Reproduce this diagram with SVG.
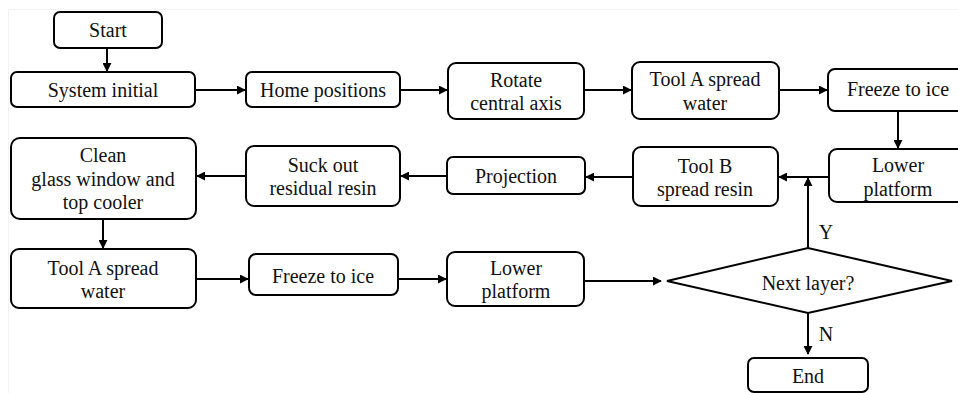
<svg xmlns="http://www.w3.org/2000/svg" width="958" height="393" viewBox="0 0 958 393">
<style>
.b{fill:#fff;stroke:#000;stroke-width:2}
.t{font-family:"Liberation Serif","Times New Roman",serif;font-size:20px;fill:#111;text-anchor:middle}
.c{fill:none;stroke:#000;stroke-width:2}
</style>
<defs>
<marker id="ah" viewBox="0 0 10 10" refX="9" refY="5" markerWidth="4.5" markerHeight="4.5" orient="auto" markerUnits="strokeWidth">
<path d="M0,0 L10,5 L0,10 z" fill="#000"/>
</marker>
</defs>
<rect width="958" height="393" fill="#fff"/>
<path d="M8.5,393 V9.5 H958" fill="none" stroke="#f3f3f3" stroke-width="1"/>
<g id="connectors">
<path class="c" marker-end="url(#ah)" d="M107,48 V71"/>
<path class="c" marker-end="url(#ah)" d="M195,90 H245"/>
<path class="c" marker-end="url(#ah)" d="M400,90 H447"/>
<path class="c" marker-end="url(#ah)" d="M584,90 H631"/>
<path class="c" marker-end="url(#ah)" d="M779,90 H827"/>
<path class="c" marker-end="url(#ah)" d="M898,111 V148"/>
<path class="c" marker-end="url(#ah)" d="M829,177 H779"/>
<path class="c" marker-end="url(#ah)" d="M633,177 H586"/>
<path class="c" marker-end="url(#ah)" d="M447,176 H401"/>
<path class="c" marker-end="url(#ah)" d="M246,176 H197"/>
<path class="c" marker-end="url(#ah)" d="M103,219 V248"/>
<path class="c" marker-end="url(#ah)" d="M196,279 H248"/>
<path class="c" marker-end="url(#ah)" d="M398,279 H446"/>
<path class="c" marker-end="url(#ah)" d="M584,281 H661"/>
<path class="c" marker-end="url(#ah)" d="M808,248 V178"/>
<path class="c" marker-end="url(#ah)" d="M808,313 V354"/>
<text class="t" x="826" y="239">Y</text>
<text class="t" x="826" y="341">N</text>
</g>
<g id="start"><rect class="b" x="54" y="12" width="108" height="36" rx="6"/><text class="t" x="108" y="37">Start</text></g>
<g id="system-initial"><rect class="b" x="11" y="72" width="184" height="35" rx="6"/><text class="t" x="103" y="97">System initial</text></g>
<g id="home-positions"><rect class="b" x="246" y="72" width="154" height="35" rx="6"/><text class="t" x="323" y="97">Home positions</text></g>
<g id="rotate"><rect class="b" x="448" y="63" width="136" height="56" rx="8"/><text class="t" x="516" y="87">Rotate</text><text class="t" x="516" y="110">central axis</text></g>
<g id="tool-a-1"><rect class="b" x="632" y="62" width="147" height="57" rx="8"/><text class="t" x="705" y="86">Tool A spread</text><text class="t" x="705" y="110">water</text></g>
<g id="freeze-1"><rect class="b" x="828" y="69" width="140" height="42" rx="7"/><text class="t" x="898" y="96">Freeze to ice</text></g>
<g id="lower-platform-1"><rect class="b" x="829" y="149" width="140" height="53" rx="8"/><text class="t" x="898" y="172">Lower</text><text class="t" x="898" y="196">platform</text></g>
<g id="tool-b"><rect class="b" x="633" y="147" width="145" height="59" rx="8"/><text class="t" x="705" y="173">Tool B</text><text class="t" x="705" y="196">spread resin</text></g>
<g id="projection"><rect class="b" x="447" y="157" width="138" height="37" rx="6"/><text class="t" x="516" y="183">Projection</text></g>
<g id="suck-out"><rect class="b" x="246" y="146" width="154" height="60" rx="8"/><text class="t" x="323" y="172">Suck out</text><text class="t" x="323" y="195">residual resin</text></g>
<g id="clean"><rect class="b" x="11" y="138" width="185" height="81" rx="9"/><text class="t" x="103" y="162">Clean</text><text class="t" x="103" y="186">glass window and</text><text class="t" x="103" y="209">top cooler</text></g>
<g id="tool-a-2"><rect class="b" x="11" y="249" width="185" height="59" rx="8"/><text class="t" x="103" y="275">Tool A spread</text><text class="t" x="103" y="298">water</text></g>
<g id="freeze-2"><rect class="b" x="249" y="254" width="149" height="41" rx="7"/><text class="t" x="323" y="283">Freeze to ice</text></g>
<g id="lower-platform-2"><rect class="b" x="447" y="252" width="137" height="54" rx="8"/><text class="t" x="516" y="275">Lower</text><text class="t" x="516" y="298">platform</text></g>
<g id="next-layer"><path class="b" d="M667,281 L808,248 L952,281 L808,313 Z"/><text class="t" x="808" y="290">Next layer?</text></g>
<g id="end"><rect class="b" x="748" y="358" width="120" height="34" rx="6"/><text class="t" x="808" y="383">End</text></g>
</svg>
